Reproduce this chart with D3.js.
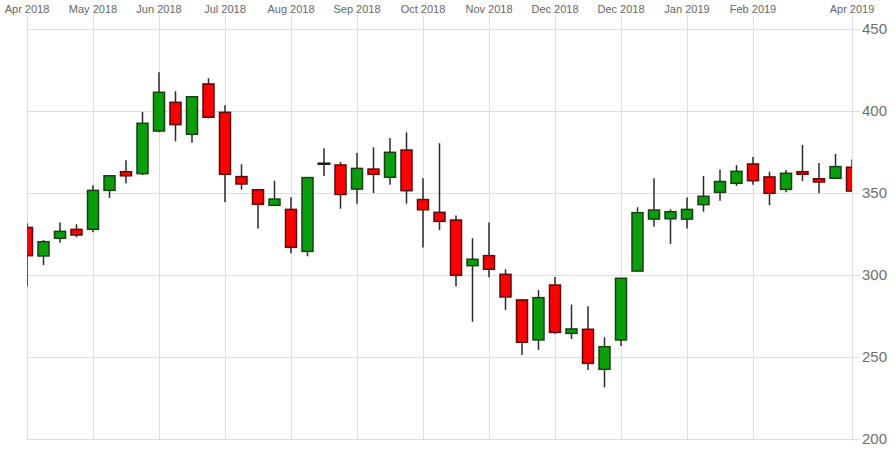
<!DOCTYPE html>
<html>
<head>
<meta charset="utf-8">
<script src="https://cdn.jsdelivr.net/npm/d3@7"></script>
<style>
  body { margin: 0; background: #fff; }
  svg { display: block; font-family: "Liberation Sans", Arial, sans-serif; }
  .grid line { stroke: #dedede; stroke-width: 1; }
  .grid path { display: none; }
</style>
</head>
<body>
<svg id="chart"></svg>
<script>
// weekly candles
const open  = [329, 311.6, 322.4, 327.8, 327.9, 351.6, 363, 361.8, 387.8, 405.3, 385.8, 416.5, 399.2, 360, 352, 342.5, 340, 314.4, 368, 367.1, 352.4, 364.6, 359.6, 376.2, 346, 338.2, 333.5, 305.7, 311.8, 300.4, 284.8, 260.4, 293.9, 264.4, 266.9, 242.5, 260.4, 302.4, 334.1, 334.3, 334.1, 342.9, 350.4, 355.9, 367.7, 359.8, 352.2, 363, 358.7, 359, 365.7];
const high  = [331.5, 321.3, 332, 331, 354.7, 361, 370, 399.4, 423.6, 412, 409, 420, 403.5, 367.5, 352.3, 357.5, 347.4, 359.6, 377.3, 369, 374.4, 377.8, 383.5, 387, 359, 380.3, 336.3, 322.4, 332, 303.5, 285, 290.7, 298.8, 282, 281, 262, 298, 341.3, 359, 340, 347.2, 360.4, 364.4, 367, 372, 363, 364, 379.3, 368.3, 373.8, 370.5];
const low   = [293, 306, 319.7, 323, 326, 347, 356, 361, 387, 381.5, 380.7, 395.5, 344.3, 352, 328.4, 342, 313.2, 311.4, 360.4, 340.4, 343.5, 350, 355, 343.5, 316.7, 327.4, 293, 271.5, 298.6, 278.7, 251.2, 254.3, 264, 261, 242, 231.5, 256.7, 302, 329.5, 319, 328.4, 338.6, 345.3, 354.3, 355, 342.7, 350.4, 357.3, 349.8, 359, 351];
const close = [311.8, 320.3, 326.6, 324.4, 351.6, 360.5, 360.5, 392.5, 411.4, 391.7, 408.7, 396.2, 361.4, 355.5, 343.1, 346.3, 316.9, 359.4, 368, 349.1, 365, 361.4, 374.8, 351.4, 339.8, 332.7, 299.8, 309.6, 303.5, 286.6, 259, 286.2, 265, 267.1, 246.1, 256.3, 298, 338, 339.6, 338.6, 340, 348, 357, 363.2, 357.5, 349.8, 362, 361.4, 356.7, 366.1, 351.2];

const tickIndex  = [0, 4, 8, 12, 16, 20, 24, 28, 32, 36, 40, 44, 50];
const tickLabels = ["Apr 2018", "May 2018", "Jun 2018", "Jul 2018", "Aug 2018", "Sep 2018",
                    "Oct 2018", "Nov 2018", "Dec 2018", "Dec 2018", "Jan 2019", "Feb 2019", "Apr 2019"];
const yTicks = [200, 250, 300, 350, 400, 450];

const width = 896, height = 450;
const plotLeft = 27, plotRight = 852, plotTop = 29, plotBottom = 439;

const svg = d3.select('#chart')
    .attr('width', width)
    .attr('height', height);

const candles = open.map((o, i) => ({ i, o, h: high[i], l: low[i], c: close[i] }));

const x = d3.scalePoint()
    .domain(candles.map(d => d.i))
    .range([plotLeft, plotRight]);

const y = d3.scaleLinear()
    .domain([200, 450])
    .range([plotBottom, plotTop]);

// horizontal grid
svg.append('g')
    .attr('class', 'grid')
    .attr('transform', `translate(${plotLeft},0)`)
    .call(d3.axisRight(y).tickValues(yTicks).tickSize(plotRight - plotLeft + 8).tickFormat(''));

// vertical grid
svg.append('g')
    .attr('class', 'grid')
    .attr('transform', `translate(0,${plotBottom})`)
    .call(d3.axisTop(x).tickValues(tickIndex).tickSize(plotBottom - 15).tickFormat(''));

// top labels
svg.append('g')
    .selectAll('text')
    .data(tickIndex)
    .enter()
    .append('text')
    .attr('x', d => x(d))
    .attr('y', 13)
    .attr('text-anchor', 'middle')
    .attr('fill', '#666')
    .style('font-size', '11px')
    .text((d, k) => tickLabels[k]);

// right labels
svg.append('g')
    .selectAll('text')
    .data(yTicks)
    .enter()
    .append('text')
    .attr('x', 862)
    .attr('y', d => y(d))
    .attr('dy', '0.36em')
    .attr('fill', '#6e6e6e')
    .style('font-size', '15px')
    .text(d => d);

svg.append('clipPath')
    .attr('id', 'plot')
    .append('rect')
    .attr('x', plotLeft)
    .attr('y', 0)
    .attr('width', plotRight - plotLeft)
    .attr('height', height);

const plot = svg.append('g').attr('clip-path', 'url(#plot)');
const bodyW = 11;

const g = plot.selectAll('g.candle')
    .data(candles)
    .enter()
    .append('g')
    .attr('class', 'candle');

g.append('line')
    .attr('x1', d => x(d.i))
    .attr('x2', d => x(d.i))
    .attr('y1', d => y(d.h))
    .attr('y2', d => y(d.l))
    .attr('stroke', '#2a2a2a')
    .style('stroke-width', '1.5px');

// doji candles (open == close) get a plain dark bar
g.append('rect')
    .attr('x', d => x(d.i) - bodyW / 2)
    .attr('y', d => y(Math.max(d.o, d.c)))
    .attr('width', bodyW)
    .attr('height', d => Math.max(Math.abs(y(d.o) - y(d.c)), 0.5))
    .attr('fill', d => d.c === d.o ? '#1a1a1a' : d.c > d.o ? '#0a9f0a' : '#ff0000')
    .attr('stroke', d => d.c === d.o ? '#1a1a1a' : d.c > d.o ? '#173f17' : '#5a0a0a')
    .style('stroke-width', d => d.c === d.o ? '2px' : '1.5px');
</script>
</body>
</html>
